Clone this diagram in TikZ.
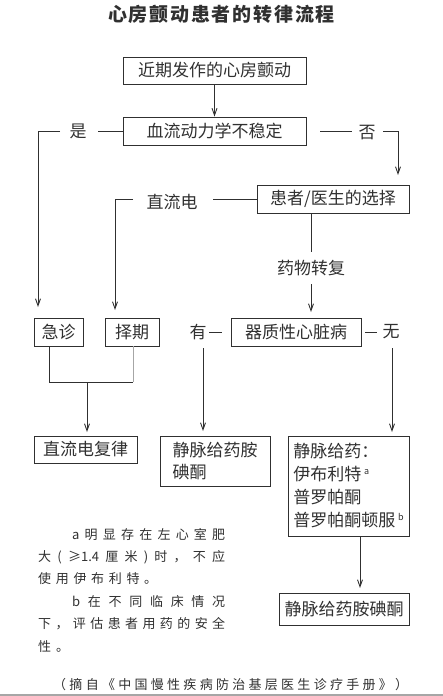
\documentclass[tikz,border=0pt]{standalone}
\usepackage{fontspec}
\setmainfont{Noto Sans CJK SC}
\usetikzlibrary{arrows.meta}
\definecolor{ink}{HTML}{303030}
\def\spc{\hfil}
\tikzset{
  box/.style={draw=ink, line width=0.9pt, text=ink, inner sep=0pt, font=\fontsize{17}{20}\selectfont},
  lbl/.style={text=ink, inner sep=0pt, font=\fontsize{17}{20}\selectfont},
  ln/.style={draw=ink, line width=0.9pt},
  arr/.style={ln, -{Straight Barb[length=7pt,width=5pt]}},
  note/.style={text=ink, inner sep=0pt, anchor=west, font=\fontsize{13}{16}\selectfont},
}
\begin{document}
\begin{tikzpicture}[x=1pt,y=-1pt]
\useasboundingbox (0,0) rectangle (443,696);

% title
\node[text=ink, inner sep=0pt, font=\fontsize{19}{22}\selectfont\bfseries] (title) at (221.5,14)
  {\hbox to 227pt{心\spc 房\spc 颤\spc 动\spc 患\spc 者\spc 的\spc 转\spc 律\spc 流\spc 程}};

% boxes
\node[box, minimum width=183pt, minimum height=27pt] (b1) at (214.5,70.5) {近期发作的心房颤动};
\node[box, minimum width=183pt, minimum height=28pt] (b2) at (214.5,131) {血流动力学不稳定};
\node[box, minimum width=152pt, minimum height=28pt] (b3) at (333,199) {患者/医生的选择};
\node[box, minimum width=49pt, minimum height=28pt] (jz) at (58.5,332) {急诊};
\node[box, minimum width=54pt, minimum height=28pt] (zq) at (132,332) {择期};
\node[box, minimum width=130pt, minimum height=28pt] (qx) at (296,332) {器质性心脏病};
\node[box, minimum width=103pt, minimum height=27pt] (d1) at (85.5,449.5) {直流电复律};
\node[box, minimum width=110pt, minimum height=50pt, align=left, font=\fontsize{17}{22}\selectfont] (d2) at (215,461) {静脉给药胺\\碘酮};
\node[box, minimum width=121pt, minimum height=100pt, align=left, font=\fontsize{17}{23}\selectfont] (d3) at (348.5,486)
  {静脉给药：\\伊布利特\,{\fontsize{9}{9}\selectfont\raisebox{6pt}{a}}\\普罗帕酮\\普罗帕酮顿服\,{\fontsize{9}{9}\selectfont\raisebox{6pt}{b}}};
\node[box, minimum width=130pt, minimum height=32pt] (d4) at (344,609) {静脉给药胺碘酮};

% labels
\node[lbl] (shi) at (78,131) {是};
\node[lbl] (fou) at (367,133) {否};
\node[lbl] (zld) at (172,202) {直流电};
\node[lbl, inner ysep=8pt] (yw) at (311,268) {药物转复};
\node[lbl] (you) at (198,332) {有};
\node[lbl] (wu) at (391,332) {无};

% coordinates
\coordinate (shiA) at (98,131);
\coordinate (shiB) at (60,131);
\coordinate (jzIn) at (38,307);
\coordinate (foA) at (320,131);
\coordinate (foB) at (352,131);
\coordinate (foC) at (383,131);
\coordinate (foD) at (398,175);
\coordinate (zA) at (213,199);
\coordinate (zB) at (133,199);
\coordinate (zqIn) at (115,310);
\coordinate (ywTop) at (311,213);
\coordinate (qxIn) at (311,312);
\coordinate (youA) at (209,332);
\coordinate (youB) at (222,332);
\coordinate (youC) at (203,348);
\coordinate (d2In) at (203,431);
\coordinate (wuA) at (365,332);
\coordinate (wuB) at (377,332);
\coordinate (wuC) at (392,348);
\coordinate (d3In) at (392,432);
\coordinate (m1) at (49,382);
\coordinate (m2) at (133,382);
\coordinate (m3) at (87,382);
\coordinate (d1In) at (87,432);
\coordinate (d3Out) at (360,536);
\coordinate (d4In) at (360,588);

% connectors
\draw[arr] (b1.south) -- (b2.north);
\draw[ln] (b2.west) -- (shiA);
\draw[arr] (shiB) -| (jzIn);
\draw[ln] (foA) -- (foB);
\draw[arr] (foC) -| (foD);
\draw[ln] (b3.west) -- (zA);
\draw[arr] (zB) -| (zqIn);
\draw[ln] (ywTop) -- (yw.north);
\draw[arr] (yw.south) -- (qxIn);
\draw[ln] (youA) -- (youB);
\draw[arr] (youC) -- (d2In);
\draw[ln] (wuA) -- (wuB);
\draw[arr] (wuC) -- (d3In);
\draw[ln] (jz.south -| m1) -- (m1) -- (m2);
\draw[draw=gray!70, line width=0.9pt] (m2) -- (zq.south -| m2);
\draw[arr] (m3) -- (d1In);
\draw[arr] (d3Out) -- (d4In);

% notes
\node[note] (n1) at (72,535) {\hbox to 153pt{a\spc 明\spc 显\spc 存\spc 在\spc 左\spc 心\spc 室\spc 肥}};
\node[note] (n2) at (38,557) {\hbox to 187pt{大\spc (\spc ≥1.4\spc 厘\spc 米\spc )\spc 时\spc ，\spc 不\spc 应}};
\node[note] (n3) at (38,579) {\hbox to 119pt{使\spc 用\spc 伊\spc 布\spc 利\spc 特\spc 。}};
\node[note] (n4) at (72,602) {\hbox to 153pt{b\spc 在\spc 不\spc 同\spc 临\spc 床\spc 情\spc 况}};
\node[note] (n5) at (38,624) {\hbox to 187pt{下\spc ，\spc 评\spc 估\spc 患\spc 者\spc 用\spc 药\spc 的\spc 安\spc 全}};
\node[note] (n6) at (38,647) {\hbox to 31pt{性\spc 。}};
\node[note] (src) at (53,685) {\hbox to 355pt{（\spc 摘\spc 自\spc 《\spc 中\spc 国\spc 慢\spc 性\spc 疾\spc 病\spc 防\spc 治\spc 基\spc 层\spc 医\spc 生\spc 诊\spc 疗\spc 手\spc 册\spc 》\spc ）}};

\draw[draw=gray!70, line width=2pt] (0,695) -- (443,695);
\end{tikzpicture}
\end{document}
